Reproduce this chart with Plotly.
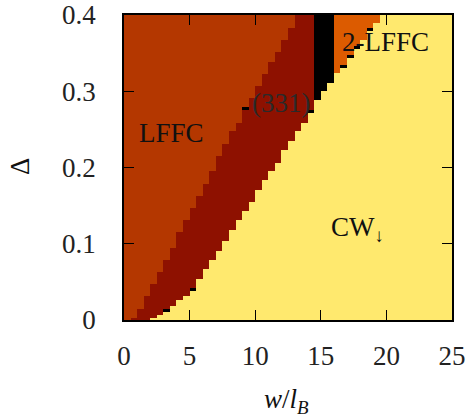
import numpy as np
import plotly.graph_objects as go

# ---- data ----
# column grid in w/l_B (left edges, width 0.5)
w_left = [0.5 * k for k in range(50)]
# top of the CW_down (yellow) region per column
cw_top = [0.0, 0.0, 0.0, 0.0, 0.003, 0.007, 0.011, 0.018, 0.026, 0.031,
          0.038, 0.054, 0.067, 0.079, 0.091, 0.103, 0.118, 0.131, 0.143, 0.155,
          0.171, 0.183, 0.195, 0.206, 0.223, 0.235, 0.248, 0.259, 0.271, 0.288,
          0.300, 0.311, 0.324, 0.331, 0.343, 0.355, 0.367, 0.379, 0.389, 0.4,
          0.4, 0.4, 0.4, 0.4, 0.4, 0.4, 0.4, 0.4, 0.4, 0.4]
# top of thin black marker sitting on the CW boundary (== cw_top if none)
mark_top = [0.0, 0.0, 0.0, 0.0, 0.003, 0.007, 0.014, 0.018, 0.026, 0.031,
            0.042, 0.054, 0.067, 0.079, 0.091, 0.103, 0.118, 0.131, 0.143, 0.155,
            0.171, 0.183, 0.195, 0.206, 0.223, 0.235, 0.248, 0.259, 0.275, 0.288,
            0.300, 0.311, 0.324, 0.335, 0.347, 0.359, 0.367, 0.383, 0.389, 0.4,
            0.4, 0.4, 0.4, 0.4, 0.4, 0.4, 0.4, 0.4, 0.4, 0.4]
# top of the (331) region per column
r331_top = [0.0, 0.003, 0.015, 0.031, 0.047, 0.063, 0.079, 0.095, 0.115, 0.131,
            0.147, 0.163, 0.178, 0.195, 0.215, 0.231, 0.248, 0.259, 0.275, 0.291,
            0.307, 0.323, 0.338, 0.351, 0.367, 0.383, 0.4, 0.4, 0.4, 0.288,
            0.300, 0.311, 0.324, 0.335, 0.347, 0.359, 0.367, 0.383, 0.389, 0.4,
            0.4, 0.4, 0.4, 0.4, 0.4, 0.4, 0.4, 0.4, 0.4, 0.4]
# phase above (331) in each column
upper_phase = (["LFFC"] * 29 + ["black"] * 3 + ["2-LFFC"] * 7 + ["CW"] * 11)
# extra black marks on the LFFC/(331) boundary
extra_mark_w = [9.0]
extra_mark_lo = [0.275]
extra_mark_hi = [0.279]

phase_code = {"CW": 0, "331": 1, "LFFC": 2, "black": 3, "2-LFFC": 4}
colors = ["#FFE96E", "#8E1100", "#B43700", "#000000", "#DC5B00"]

# ---- build the grid ----
dy = 0.001
delta = np.arange(0, 0.4, dy) + dy / 2
wc = np.array(w_left) + 0.25
z = np.zeros((len(delta), len(w_left)), dtype=int)
for k in range(len(w_left)):
    for i, d in enumerate(delta):
        if d < cw_top[k]:
            p = "CW"
        elif d < mark_top[k]:
            p = "black"
        elif d < r331_top[k]:
            p = "331"
        else:
            p = upper_phase[k]
        z[i, k] = phase_code[p]
for mw, lo, hi in zip(extra_mark_w, extra_mark_lo, extra_mark_hi):
    k = w_left.index(mw)
    z[(delta > lo) & (delta < hi), k] = phase_code["black"]

n = len(colors)
cs = []
for j, c in enumerate(colors):
    cs.append([j / n, c])
    cs.append([(j + 1) / n, c])

fig = go.Figure(go.Heatmap(x=wc, y=delta, z=z, colorscale=cs, zmin=-0.5,
                           zmax=n - 0.5, showscale=False, hoverinfo="skip"))

FONT = "Liberation Serif"
axis_common = dict(showline=True, linecolor="black", linewidth=1.5, mirror="allticks",
                   ticks="inside", ticklen=10, tickwidth=1.1, tickcolor="black",
                   showgrid=False, zeroline=False, automargin=False,
                   ticklabeloverflow="allow",
                   tickfont=dict(family=FONT, size=27, color="#222"))
fig.update_xaxes(range=[0, 25], tickvals=[0, 5, 10, 15, 20, 25], ticklabelstandoff=11,
                 **axis_common)
fig.update_yaxes(range=[0, 0.4], tickvals=[0, 0.1, 0.2, 0.3, 0.4],
                 ticktext=["0", "0.1", "0.2", "0.3", "0.4"], ticklabelstandoff=21,
                 **axis_common)

ann_font = dict(family=FONT, size=27, color="#111")
fig.add_annotation(x=3.6, y=0.245, text="LFFC", showarrow=False, font=ann_font)
fig.add_annotation(x=11.95, y=0.285, text="(331)", showarrow=False,
                   font=dict(family=FONT, size=27, color="#2a2a2a"))
fig.add_annotation(x=19.95, y=0.365, text="2-LFFC", showarrow=False, font=ann_font)
fig.add_annotation(x=17.8, y=0.120, text="CW<sub>↓</sub>", showarrow=False, font=ann_font)
fig.add_annotation(x=0.494, y=-0.265, xref="paper", yref="paper", xanchor="center",
                   yanchor="middle", text="<i>w</i>/<i>l</i><sub><i>B</i></sub>",
                   showarrow=False, font=ann_font)
fig.add_annotation(x=-0.317, y=0.502, xref="paper", yref="paper", xanchor="center",
                   yanchor="middle", text="Δ", textangle=-90, showarrow=False,
                   font=ann_font)

fig.update_layout(width=469, height=418, margin=dict(l=124, r=17, t=15, b=98),
                  plot_bgcolor="white", paper_bgcolor="white")
# remove the default page margin so the 469x418 figure fills the window exactly
fig.write_html("out.html", config={"displayModeBar": False},
               post_script="document.body.style.margin='0';"
                           "document.body.style.overflow='hidden';")
